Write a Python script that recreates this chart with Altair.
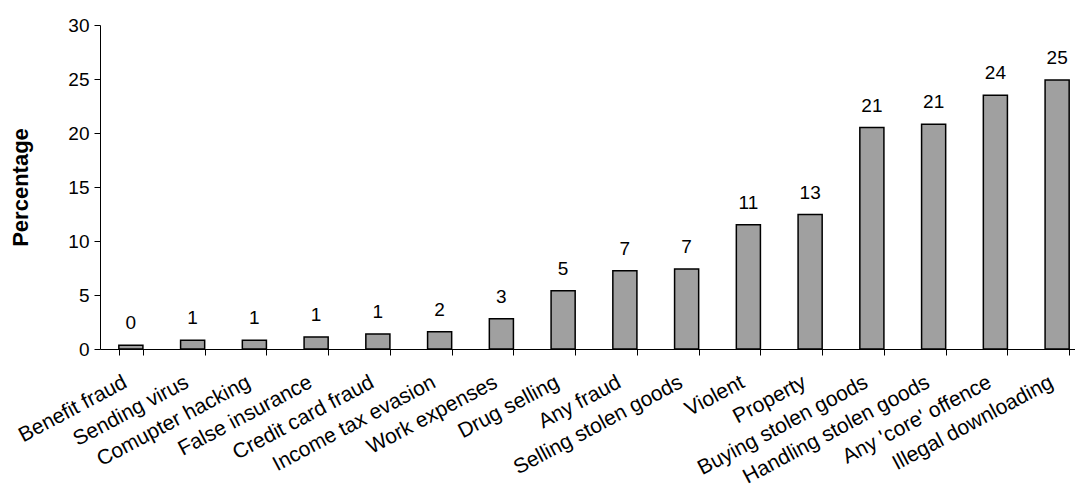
import altair as alt
import pandas as pd

categories = [
    "Benefit fraud", "Sending virus", "Comupter hacking", "False insurance",
    "Credit card fraud", "Income tax evasion", "Work expenses", "Drug selling",
    "Any fraud", "Selling stolen goods", "Violent", "Property",
    "Buying stolen goods", "Handling stolen goods", "Any 'core' offence",
    "Illegal downloading",
]
values = [0.35, 0.8, 0.8, 1.1, 1.4, 1.6, 2.8, 5.4, 7.25, 7.4, 11.5, 12.45,
          20.5, 20.8, 23.5, 24.9]
value_labels = ["0", "1", "1", "1", "1", "2", "3", "5", "7", "7", "11", "13",
                "21", "21", "24", "25"]
y_ticks = [0, 5, 10, 15, 20, 25, 30]

df = pd.DataFrame({"category": categories, "value": values, "label": value_labels})

FONT = "Liberation Sans"

x = alt.X(
    "category:N",
    sort=categories,
    scale=alt.Scale(range=[0, 988], paddingInner=0.61, paddingOuter=0.305),
    axis=alt.Axis(
        title=None,
        labelAngle=-28,
        labelAlign="right",
        labelBaseline="top",
        labelFontSize=21,
        labelFont=FONT,
        labelColor="black",
        labelPadding=16,
        labelOffset=-11,
        tickBand="extent",
        tickSize=6,
        tickColor="black",
        domainColor="black",
        labelOverlap=False,
        labelLimit=0,
    ),
)

y = alt.Y(
    "value:Q",
    scale=alt.Scale(domain=[0, 30], nice=False, zero=True),
    axis=alt.Axis(
        values=y_ticks,
        title="Percentage",
        titleFont=FONT,
        titleFontSize=22,
        titleFontWeight="bold",
        titleColor="black",
        titleAngle=-90,
        titleX=-80,
        titleY=162,
        titleAlign="center",
        titleBaseline="middle",
        labelFont=FONT,
        labelFontSize=19,
        labelColor="black",
        labelPadding=5,
        tickSize=6,
        tickColor="black",
        domainColor="black",
        grid=False,
    ),
)

bars = alt.Chart(df).mark_bar(
    color="#A0A0A0", stroke="black", strokeWidth=1.5
).encode(x=x, y=y)

texts = alt.Chart(df).mark_text(
    baseline="alphabetic", dy=-16, fontSize=19, font=FONT, color="black"
).encode(x=alt.X("category:N", sort=categories), y="value:Q", text="label:N")

chart = (
    alt.layer(bars, texts)
    .properties(
        width=975,
        height=324,
        autosize=alt.AutoSizeParams(type="none"),
        padding={"left": 100, "top": 25, "right": 0, "bottom": 144},
        background="white",
    )
    .configure_view(stroke=None)
)

chart.save("out.html", embed_options={"renderer": "svg", "actions": False})
